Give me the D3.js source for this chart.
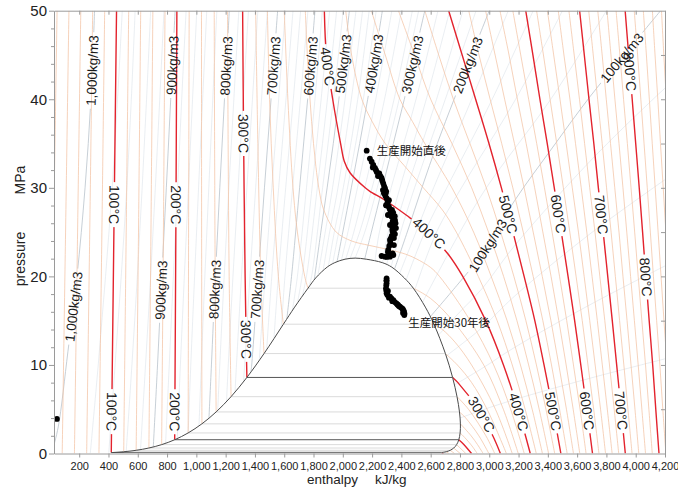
<!DOCTYPE html>
<html><head><meta charset="utf-8">
<script src="https://cdn.jsdelivr.net/npm/d3@7"></script>
<style>
html,body{margin:0;padding:0;background:#fff;}
svg{display:block;font-family:"Liberation Sans",Arial,sans-serif;}
</style></head><body>
<svg id="c" width="678" height="492"></svg>
<script>
// ---------- DATA ----------
// axis ticks
const xTicks = [200,400,600,800,1000,1200,1400,1600,1800,2000,2200,2400,2600,2800,3000,3200,3400,3600,3800,4000,4200];
const yTicks = [0,10,20,30,40,50];
const yMinor = [2,4,6,8,12,14,16,18,22,24,26,28,32,34,36,38,42,44,46,48];
const yRight = [5,10,15,20,25,30,35,40,45];

// saturation (dome): T [°C], p [MPa], hf, hg [kJ/kg]
const satT  = [100,120,140,160,180,200,220,240,260,280,300,320,340,350,360,365,370,372,373.5,373.946];
const satP  = [0.1014,0.1985,0.3615,0.6182,1.0028,1.5549,2.3196,3.3469,4.6923,6.4166,8.5879,11.284,14.601,16.529,18.666,19.821,21.044,21.55,21.94,22.064];
const satHf = [419.2,503.8,589.2,675.6,763.2,852.4,943.6,1037.6,1135.0,1236.9,1345.0,1462.2,1594.4,1671.2,1762.5,1815,1893,1945,2015,2084.3];
const satHg = [2675.6,2706.0,2733.4,2757.4,2777.2,2792.0,2801.0,2803.0,2796.6,2779.9,2749.6,2700.6,2622.2,2563.6,2481.5,2420,2334.5,2270,2160,2084.3];

// liquid-side isotherms [h, p]
const liqT = [0,20,40,60,80,100,120,140,160,180,200,220,240,260,280,300,320,340,360];
const liqPts = [
 [[0,0.0006],[25,25],[49,50]],
 [[84,0.002],[107,25],[130,50]],
 [[167.5,0.007],[189,25],[211,50]],
 [[251,0.02],[272,25],[292,50]],
 [[335,0.047],[355,25],[374,50]],
 [[419,0.101],[437,25],[455,50]],
 [[504,0.199],[521,25],[538,50]],
 [[589,0.362],[605,25],[620,50]],
 [[676,0.618],[690,25],[703,50]],
 [[763,1.003],[775,25],[786,50]],
 [[852,1.555],[860,25],[867,50]],
 [[944,2.32],[947,25],[951,50]],
 [[1038,3.35],[1036,25],[1035,50]],
 [[1135,4.69],[1127,25],[1122,50]],
 [[1237,6.42],[1224,20],[1217,35],[1213,50]],
 [[1345,8.59],[1333,20],[1323,35],[1316,50]],
 [[1462,11.28],[1440,20],[1420,35],[1405,50]],
 [[1594,14.6],[1560,20],[1525,30],[1500,40],[1485,50]],
 [[1762,18.67],[1740,20],[1690,25],[1660,30],[1625,40],[1600,50]]
];
// vapour-side isotherms [h, p]
const vapT = [100,120,140,160,180,200,220,240,260,280,300,320,340,360];
const vapPts = [
 [[2676,0.101],[2687,0]],
 [[2706,0.199],[2725,0]],
 [[2733,0.362],[2763,0]],
 [[2757,0.618],[2802,0]],
 [[2777,1.003],[2840,0]],
 [[2792,1.555],[2828,1],[2879,0]],
 [[2801,2.32],[2821,2],[2875,1],[2918,0]],
 [[2803,3.35],[2876,2],[2920,1],[2958,0]],
 [[2797,4.69],[2840,4],[2929,2],[2997,0]],
 [[2780,6.42],[2858,5],[2977,2],[3037,0]],
 [[2750,8.59],[2786,8],[2925,5],[3024,2],[3076,0]],
 [[2701,11.28],[2782,10],[2880,8],[2985,5],[3117,0]],
 [[2622,14.6],[2680,14],[2770,12.5],[2879,10],[3042,5],[3157,0]],
 [[2482,18.67],[2600,17.5],[2750,15],[2962,10],[3096,5],[3198,0]]
];
// near-critical supercritical isotherms [h, p]
const critT = [380,400,420,440];
const critPts = [
 [[1744,50],[1758,45],[1776,40],[1800,35],[1836,30],[1870,27.5],[1955,25],[2060,24],[2180,23.5],[2320,23],[2430,22.5],[2500,22],[2600,21],[2660,20],[2870,15],[3030,10],[3146,5],[3239,0]],
 [[1874,50],[1888,45],[1931,40],[1985,35],[2010,33],[2049,31.7],[2153,30],[2185,29.6],[2288,28.6],[2435,26.9],[2581,25],[2720,22.5],[2819,20],[2976,15],[3097,10],[3196,5],[3280,0]],
 [[2020,50],[2060,45],[2130,40],[2200,37.5],[2290,35],[2420,32.5],[2550,30],[2680,27.5],[2775,25],[2925,20],[3054,15],[3157,10],[3245,5],[3321,0]],
 [[2195,50],[2290,45],[2390,40],[2475,37.5],[2560,35],[2745,30],[2893,25],[3013,20],[3122,15],[3213,10],[3293,5],[3363,0]]
];
// other supercritical isotherms: h at pressures superP
const superP = [0,5,10,15,20,25,30,35,40,45,50];
const superT = [460,480,500,520,540,560,580,600,620,640,660,680,700,720,740,760,780,800,820,840,860,880];
const superH = [
 [3405,3341,3269,3189,3098,2995,2880,2745,2600,2490,2380],
 [3447,3387,3322,3250,3168,3078,2980,2868,2755,2655,2560],
 [3489,3434,3374,3311,3238,3162,3083,2998,2907,2815,2723],
 [3532,3480,3425,3366,3300,3232,3161,3085,3006,2930,2860],
 [3575,3527,3475,3421,3362,3300,3238,3172,3105,3040,2975],
 [3618,3573,3525,3475,3422,3366,3310,3252,3192,3135,3073],
 [3661,3620,3575,3529,3480,3429,3377,3324,3269,3215,3161],
 [3705,3666,3625,3583,3538,3492,3444,3396,3346,3298,3249],
 [3749,3713,3674,3635,3593,3550,3506,3461,3415,3370,3323],
 [3794,3760,3723,3686,3648,3609,3567,3525,3483,3440,3397],
 [3839,3806,3772,3738,3702,3666,3628,3589,3551,3510,3471],
 [3884,3853,3821,3789,3755,3722,3686,3651,3616,3580,3544],
 [3929,3900,3870,3840,3809,3778,3745,3714,3681,3649,3617],
 [3975,3947,3919,3890,3861,3832,3801,3771,3740,3710,3679],
 [4021,3995,3968,3941,3913,3886,3857,3828,3799,3771,3741],
 [4067,4042,4017,3991,3965,3939,3913,3886,3858,3831,3804],
 [4113,4090,4067,4042,4017,3993,3968,3943,3917,3892,3866],
 [4159,4137,4116,4092,4069,4047,4024,4000,3976,3952,3928],
 [4206,4185,4165,4143,4121,4100,4079,4057,4035,4013,3990],
 [4253,4233,4214,4193,4173,4153,4133,4113,4093,4073,4052],
 [4301,4281,4263,4244,4225,4206,4188,4169,4151,4132,4114],
 [4348,4329,4312,4295,4277,4260,4243,4226,4209,4192,4176]
];

// isochores (density, kg/m3) [h, p]
const rhoVals = [1000,980,960,940,920,900,880,860,840,820,800,780,760,740,720,700,680,660,640,620,600,580,560,540,520,500,480,460,440,420,400,380,360,340,320,300,280,260,240,220,200,180,160,140,120,100,80,60,40,20];
const rhoPts = [
 [[20,0.5],[57,3],[123,11.5],[185,20],[240,30],[280,40],[305,50]],
 [[276,0.03],[330,10],[380,20],[425,30],[462,40],[494,50]],
 [[402,0.09],[445,10],[487,20],[525,30],[556,40],[582,50]],
 [[521,0.2],[560,10],[597,20],[630,30],[660,40],[688,50]],
 [[619,0.44],[653,10],[688,20],[720,30],[750,40],[779,50]],
 [[706,0.75],[735,10],[764,20],[795,30],[825,40],[855,50]],
 [[790,1.15],[815,10],[843,20],[872,30],[900,40],[930,50]],
 [[870,1.69],[891,10],[918,20],[946,30],[974,40],[1003,50]],
 [[944,2.32],[962,10],[988,20],[1015,30],[1043,40],[1071,50]],
 [[1018,3.1],[1034,10],[1058,20],[1085,30],[1112,40],[1140,50]],
 [[1086,3.97],[1103,10],[1130,20],[1160,30],[1192,40],[1225,50]],
 [[1146,4.85],[1160,10],[1190,20],[1222,30],[1256,40],[1290,50]],
 [[1206,5.87],[1218,10],[1250,20],[1285,30],[1320,40],[1356,50]],
 [[1264,6.9],[1274,10],[1308,20],[1345,30],[1383,40],[1420,50]],
 [[1322,8.1],[1330,10],[1366,20],[1405,30],[1445,40],[1485,50]],
 [[1373,9.2],[1378,10],[1422,20],[1465,30],[1510,40],[1555,50]],
 [[1430,10.6],[1470,20],[1515,30],[1562,40],[1608,50]],
 [[1480,11.7],[1515,20],[1562,30],[1612,40],[1660,50]],
 [[1530,13.0],[1560,20],[1610,30],[1662,40],[1712,50]],
 [[1580,14.2],[1605,20],[1657,30],[1711,40],[1762,50]],
 [[1617,15.1],[1650,20],[1705,30],[1760,40],[1810,50]],
 [[1655,16.1],[1690,20],[1752,30],[1810,40],[1860,50]],
 [[1690,17.0],[1722,20],[1790,30],[1852,40],[1910,50]],
 [[1725,17.9],[1752,20],[1826,30],[1895,40],[1958,50]],
 [[1770,18.9],[1787,20],[1862,30],[1936,40],[2003,50]],
 [[1805,19.6],[1850,25],[1893,30],[1935,35],[1973,40],[2010,45],[2045,50]],
 [[1830,20.1],[1880,25],[1930,30],[2015,40],[2090,50]],
 [[1865,20.6],[1910,25],[1967,30],[2058,40],[2135,50]],
 [[1900,21.0],[1942,25],[2003,30],[2102,40],[2180,50]],
 [[1930,21.4],[1972,25],[2032,30],[2140,40],[2228,50]],
 [[1960,21.6],[2000,25],[2058,30],[2115,35],[2170,40],[2222,45],[2270,50]],
 [[1990,21.8],[2035,25],[2100,30],[2225,40],[2335,50]],
 [[2020,21.95],[2075,25],[2150,30],[2285,40],[2400,50]],
 [[2050,22.03],[2115,25],[2200,30],[2350,40],[2475,50]],
 [[2084,22.064],[2150,25],[2235,30],[2385,40],[2518,50]],
 [[2150,22.0],[2195,25],[2270,30],[2345,35],[2420,40],[2490,45],[2560,50]],
 [[2220,21.8],[2250,25],[2330,30],[2500,40],[2650,50]],
 [[2270,21.5],[2310,25],[2390,30],[2570,40],[2730,50]],
 [[2300,21.3],[2350,25],[2440,30],[2640,40],[2820,50]],
 [[2330,21.1],[2395,25],[2490,30],[2700,40],[2910,50]],
 [[2355,20.9],[2440,25],[2540,30],[2645,35],[2760,40],[2880,45],[3000,50]],
 [[2390,20.4],[2500,25],[2620,30],[2880,40],[3130,50]],
 [[2430,19.5],[2560,25],[2710,30],[3020,40],[3300,50]],
 [[2490,18.4],[2640,25],[2810,30],[3180,40],[3500,50]],
 [[2545,17.1],[2800,25],[2980,30],[3420,40],[3800,50]],
 [[2600,15.5],[2780,19],[2950,22.5],[3175,28.6],[3430,34.5],[3688,40.3],[3920,45],[4170,50]],
 [[2655,13.4],[2800,16],[2950,18.6],[3175,23.5],[3688,33],[4131,40.2],[4250,42]],
 [[2705,11.0],[2800,12.2],[2950,14.2],[3175,17.8],[3688,24.8],[4250,31.5]],
 [[2758,7.7],[2950,9.6],[3175,12.0],[3688,16.8],[4250,21.6]],
 [[2800,4.0],[2950,4.9],[3175,6.1],[3688,8.5],[4250,10.9]]
];

// curve labels: temperature (°C) at pressure, density at pressure
const tempLabelT = [100,100,200,200,300,300,300,400,400,400,500,500,600,600,700,700,800,800];
const tempLabelP = [28.1,4.7,28.1,4.7,36.1,12.9,4.4,43.7,24.9,4.7,27.0,4.8,27.0,4.8,27.0,4.8,43.1,19.9];
const rhoLabelRho = [1000,1000,900,900,800,800,700,700,600,500,400,300,200,100,100];
const rhoLabelP   = [43.2,16.6,43.8,18.5,43.8,18.5,43.8,18.5,43.8,44.0,44.0,43.9,43.9,44.7,23.5];

// well data points [h kJ/kg, p MPa]
const wellH = [48,2163,2197,2208,2226,2249,2265,2276,2288,2293,2299,2306,2315,2327,2334,2340,2345,2340,2334,2322,2317,2345,2322,2288,2265,
  2315,2336,2356,2363,2356,2308,2322,2274,2219,2240,2295,2349,2349,2308,
  2185,2205,2232,2258,2270,2282,2296,2290,2305,2320,2330,2345,2352,2338,2350,2328,2325,2310,2340,2300,2355,2360,2344,2300,2281,
  2299,2299,2295,2299,2322,2345,2366,2390,2409,2418,2420,2308,2332,2377,2411,2298,
  2299,2297,2297,2305,2315,2338,2355,2372,2383,2400,2414,2421];
const wellP = [3.9,34.19,32.95,32.58,32.01,31.64,31.08,30.51,29.95,29.38,28.82,28.43,27.87,27.30,26.74,26.17,25.61,25.05,24.56,24.11,23.43,22.41,22.22,22.22,22.30,
  28.6,27.5,26.35,25.46,24.78,26.93,25.8,29.75,32.24,31.33,28.04,24.33,23.54,22.75,
  33.3,32.3,31.8,31.3,30.8,30.2,29.6,29.1,28.2,27.6,27.0,26.5,25.9,25.3,24.9,24.3,23.8,23.0,22.6,22.2,26.8,26.0,27.2,28.0,29.4,
  19.78,19.22,18.65,18.09,17.71,17.33,16.96,16.58,16.32,16.01,15.64,18.35,17.5,16.77,15.87,19.53,
  19.5,19.0,18.4,17.9,17.6,17.2,17.1,16.85,16.65,16.45,16.15,15.8];
const noteStart = "生産開始直後";
const noteLater = "生産開始30年後";

// ---------- DRAW ----------
const svg = d3.select('#c');
const x = d3.scaleLinear().domain([28,4200]).range([54,665]);
const y = d3.scaleLinear().domain([0,50]).range([453.5,10.7]);
const defs = svg.append('defs');
defs.append('clipPath').attr('id','plot').append('rect')
  .attr('x',x(28)).attr('y',y(50)).attr('width',x(4200)-x(28)).attr('height',y(0)-y(50));
svg.append('rect').attr('width',678).attr('height',492).attr('fill','#fff');

const line = d3.line().x(d=>x(d[0])).y(d=>y(d[1])).curve(d3.curveCatmullRom.alpha(0.5));
const plot = svg.append('g').attr('clip-path','url(#plot)');
const gRho = plot.append('g');
const gThin = plot.append('g');
const gRed = plot.append('g');
const gDome = plot.append('g');
const gLab = svg.append('g').attr('clip-path','url(#plot)');
const gDots = svg.append('g');

// isochores
const rhoPaths = {};
rhoVals.forEach((r,i)=>{
  const major = r%100===0;
  const n = gRho.append('path').attr('d',line(rhoPts[i])).attr('fill','none')
    .attr('stroke', major ? '#b9c3cc' : '#dce3ea').attr('stroke-width', major?0.8:0.6).node();
  rhoPaths[r] = [n];
});

// isotherms
const tPaths = {};
function addIso(T, pts){
  const red = T%100===0 && T>0;
  const g = red ? gRed : gThin;
  const n = g.append('path').attr('d',line(pts)).attr('fill','none')
    .attr('stroke', red ? '#e3232d' : '#f3c3a4').attr('stroke-width', red?1.4:0.75).node();
  (tPaths[T] = tPaths[T] || []).push(n);
}
liqT.forEach((T,i)=>addIso(T, liqPts[i]));
vapT.forEach((T,i)=>addIso(T, vapPts[i]));
critT.forEach((T,i)=>addIso(T, critPts[i]));
superT.forEach((T,i)=>addIso(T, superP.map((p,j)=>[superH[i][j],p])));

// dome
const domePts = satT.map((t,i)=>[satHf[i],satP[i]])
  .concat(satT.slice(0,-1).map((t,i)=>[satHg[i],satP[i]]).reverse());
gDome.append('path').attr('d', line(domePts)+'Z').attr('fill','#fff').attr('stroke','none');
satT.forEach((t,i)=>{
  if (t%20!==0 || t>360) return;
  const dark = (t%100===0);
  gDome.append('line').attr('x1',x(satHf[i])).attr('x2',x(satHg[i]))
    .attr('y1',y(satP[i])).attr('y2',y(satP[i]))
    .attr('stroke', dark ? '#555' : '#d2d2d2').attr('stroke-width', dark?1:0.8);
});
gDome.append('path').attr('d', line(domePts)).attr('fill','none').attr('stroke','#4a4a4a').attr('stroke-width',1);

// labels with gaps in their own line
let maskId = 0;
const maskOf = new Map();
function ensureMask(node){
  if (maskOf.has(node)) return maskOf.get(node);
  const id = 'm'+(maskId++);
  const m = defs.append('mask').attr('id',id).attr('maskUnits','userSpaceOnUse')
    .attr('x',0).attr('y',0).attr('width',678).attr('height',492);
  m.append('rect').attr('x',0).attr('y',0).attr('width',678).attr('height',492).attr('fill','#fff');
  d3.select(node).attr('mask','url(#'+id+')');
  maskOf.set(node,m);
  return m;
}
function addLabel(nodes, pT, text, wantDown, fs){
  const yT = y(pT);
  let best = null;
  nodes.forEach(n=>{
    const L = n.getTotalLength();
    for (let s=0; s<=L; s+=1){
      const pt = n.getPointAtLength(s);
      const d = Math.abs(pt.y-yT);
      if (!best || d<best.d) best = {d,n,s,L,pt};
    }
  });
  const {n,s,L,pt} = best;
  const a = n.getPointAtLength(Math.max(0,s-6)), b = n.getPointAtLength(Math.min(L,s+6));
  let dx=b.x-a.x, dy=b.y-a.y;
  if (wantDown ? dy<0 : dy>0){dx=-dx;dy=-dy;}
  const ang = Math.atan2(dy,dx)*180/Math.PI;
  const tr = `translate(${pt.x},${pt.y}) rotate(${ang})`;
  const t = gLab.append('text').attr('transform',tr).attr('text-anchor','middle')
    .attr('dy','0.36em').style('font-size',fs+'px').attr('fill','#1a1a1a').text(text);
  const w = t.node().getComputedTextLength()+6, h = fs*0.8;
  ensureMask(n).append('rect').attr('x',-w/2).attr('y',-h/2).attr('width',w).attr('height',h)
    .attr('transform',tr).attr('fill','#000');
}
tempLabelT.forEach((T,i)=>addLabel(tPaths[T], tempLabelP[i], T+'°C', true, 14));
const fmt = d3.format(',');
rhoLabelRho.forEach((r,i)=>addLabel(rhoPaths[r], rhoLabelP[i], fmt(r)+'kg/m3', false, 13.5));

// well points
const wellData = wellH.map((h,i)=>[h,wellP[i]]);
gDots.selectAll('circle').data(wellData).enter().append('circle')
  .attr('cx',d=>x(d[0])).attr('cy',d=>y(d[1])).attr('r',2.9).attr('fill','#000');
const firstPt = d3.greatest(wellData, d=>d[1]);          // start of production
const lastPt = d3.least(wellData.slice(1), d=>d[1]);      // after 30 years
const cjk = '"Noto Sans CJK JP","Noto Sans CJK SC",sans-serif';
svg.append('text').attr('x',x(firstPt[0])+10).attr('y',y(firstPt[1])).attr('dy','0.36em')
  .style('font-family',cjk).style('font-size','11.5px').attr('fill','#111').text(noteStart);
svg.append('text').attr('x',x(lastPt[0])+4).attr('y',y(lastPt[1])+8).attr('dy','0.36em')
  .style('font-family',cjk).style('font-size','11.5px').attr('fill','#111').text(noteLater);

// axes
function styleAxis(g){ g.selectAll('path,line').attr('stroke','#9a9a9a'); g.selectAll('text').attr('fill','#222'); }
const gx = svg.append('g').attr('transform',`translate(0,${y(0)})`)
  .call(d3.axisBottom(x).tickValues(xTicks).tickFormat(fmt).tickSize(4).tickSizeOuter(0));
gx.selectAll('text').style('font-size','11px').attr('dy','0.9em');
styleAxis(gx);
const gxt = svg.append('g').attr('transform',`translate(0,${y(50)})`)
  .call(d3.axisBottom(x).tickValues(xTicks).tickFormat('').tickSize(4).tickSizeOuter(0));
styleAxis(gxt);
const gyl = svg.append('g').attr('transform',`translate(${x(28)},0)`)
  .call(d3.axisLeft(y).tickValues(yTicks).tickSize(5).tickSizeOuter(0).tickPadding(2));
gyl.selectAll('text').style('font-size','15px');
styleAxis(gyl);
const gym = svg.append('g').attr('transform',`translate(${x(28)},0)`)
  .call(d3.axisLeft(y).tickValues(yMinor).tickFormat('').tickSize(3).tickSizeOuter(0));
gym.select('.domain').remove(); styleAxis(gym);
const gyr = svg.append('g').attr('transform',`translate(${x(4200)},0)`)
  .call(d3.axisLeft(y).tickValues(yRight).tickFormat('').tickSize(4).tickSizeOuter(0));
styleAxis(gyr);

// axis titles
svg.append('text').attr('x',307).attr('y',484).style('font-size','13.5px').attr('fill','#222').text('enthalpy');
svg.append('text').attr('x',375).attr('y',484).style('font-size','13.5px').attr('fill','#222').text('kJ/kg');
svg.append('text').attr('transform','translate(20,259) rotate(-90)').attr('text-anchor','middle').attr('dy','0.36em')
  .style('font-size','14px').attr('fill','#222').text('pressure');
svg.append('text').attr('transform','translate(20,180) rotate(-90)').attr('text-anchor','middle').attr('dy','0.36em')
  .style('font-size','14px').attr('fill','#222').text('MPa');
</script>
</body></html>
